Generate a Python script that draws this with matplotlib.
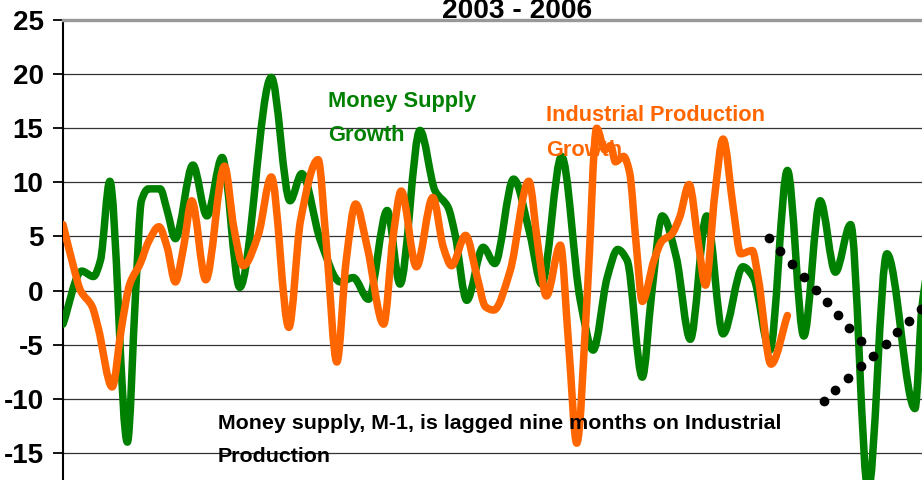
import matplotlib
matplotlib.use("Agg")
import matplotlib.pyplot as plt
import numpy as np
from matplotlib.path import Path
from matplotlib.patches import PathPatch
from matplotlib import font_manager

# Money supply growth (M-1, lagged nine months), x in months from start
green_x = [0, 1.6, 2.6, 3.2, 4.0, 5.5, 6.2, 6.7, 7.3, 8.3, 8.9, 9.6, 11.1, 12.3, 13.6,
           15.1, 17.8, 19.4, 20.4, 22.0, 23.7, 24.8, 26.1, 27.7, 28.8, 30.5, 31.8, 32.9,
           33.5, 34.5, 35.9, 36.9, 38.5, 39.9, 40.9, 42.6, 44.2, 45.3, 46.5, 47.4, 48.2,
           49.5, 50.3, 51.2, 52.4, 53.6, 55.0, 56.4, 58.1, 59.0, 60.4, 61.9, 63.3, 64.7,
           66.0, 67.3, 68.8, 70.4, 72.8, 73.4, 74.2]
green_y = [-3.1, 1.8, 1.3, 2.8, 10.1, -14.0, -0.3, 8.3, 9.4, 9.4, 7.4, 4.8, 11.6, 6.9, 12.3,
           0.3, 19.7, 8.3, 10.8, 4.6, 0.8, 1.2, -0.8, 7.4, 0.6, 14.8, 9.2, 7.7,
           5.2, -0.9, 4.0, 2.5, 10.3, 5.2, 0.6, 12.4, -0.9, -5.5, 1.2, 3.8, 2.8,
           -8.0, -0.3, 6.9, 3.1, -4.5, 6.9, -4.0, 2.2, 1.2, -5.5, 11.1, -4.2, 8.3,
           1.7, 6.1, -18.5, 3.4, -10.9, -1.5, 4.0]

# Industrial production growth
orange_x = [0, 0.9, 1.5, 2.5, 3.0, 4.2, 5.0, 5.7, 6.6, 7.3, 8.2, 8.9, 9.6, 10.3, 11.0,
            12.2, 13.8, 14.6, 15.4, 16.7, 17.8, 19.3, 20.3, 21.8, 22.5, 23.4, 24.2, 25.0,
            26.0, 27.4, 28.2, 28.9, 30.2, 31.6, 32.5, 33.2, 34.4, 35.4, 36.1, 36.8, 38.2,
            39.8, 40.6, 41.3, 42.5, 43.2, 43.9, 44.8, 45.6, 46.3, 46.8, 47.2, 47.9, 48.4,
            49.0, 49.5, 50.5, 51.2, 52.0, 52.7, 53.5, 54.3, 54.9, 55.7, 56.4, 57.3, 57.9,
            58.9, 59.4, 60.5, 61.9]
orange_y = [6.1, 2.2, 0.0, -1.5, -3.4, -8.9, -3.4, 0.6, 2.5, 4.5, 5.9, 4.0, 0.8, 4.0, 8.3,
            1.0, 11.5, 5.8, 2.3, 5.2, 10.5, -3.4, 6.5, 12.1, 4.3, -6.6, 2.8, 8.0,
            4.0, -3.1, 4.9, 9.2, 2.2, 8.6, 4.0, 2.3, 5.1, 1.2, -1.5, -1.8, 1.8,
            10.1, 4.0, -0.5, 4.2, -4.9, -14.1, -0.3, 15.0, 13.0, 13.4, 11.9, 12.4, 11.0,
            4.0, -1.0, 2.8, 4.6, 5.2, 6.8, 9.8, 4.3, 0.5, 8.9, 14.0, 7.4, 3.4,
            3.7, 1.2, -6.8, -2.3]

# dotted trend segments
dots_a_x = [60.3, 61.3, 62.3, 63.3, 64.3, 65.3, 66.2, 67.2, 68.2]
dots_a_y = [4.9, 3.7, 2.5, 1.3, 0.1, -1.1, -2.3, -3.5, -4.7]
dots_b_x = [65.0, 66.0, 67.1, 68.2, 69.2, 70.3, 71.3, 72.3, 73.3]
dots_b_y = [-10.2, -9.2, -8.1, -7.0, -6.0, -4.9, -3.8, -2.8, -1.7]

yticks = [-15, -10, -5, 0, 5, 10, 15, 20, 25]

names = {f.name for f in font_manager.fontManager.ttflist}
narrow = 'Liberation Sans Narrow' in names
fam = ['Liberation Sans Narrow', 'Liberation Sans'] if narrow else ['Liberation Sans']
plt.rcParams['font.family'] = fam
plt.rcParams['font.weight'] = 'bold'


def smooth_path(x, y):
    # monotone cubic (pchip-like) drawn as bezier segments
    x = np.asarray(x, float)
    y = np.asarray(y, float)
    h = np.diff(x)
    d = np.diff(y) / h
    m = np.zeros_like(y)
    m[0], m[-1] = d[0], d[-1]
    for i in range(1, len(y) - 1):
        if d[i - 1] * d[i] > 0:
            w1 = 2 * h[i] + h[i - 1]
            w2 = h[i] + 2 * h[i - 1]
            m[i] = (w1 + w2) / (w1 / d[i - 1] + w2 / d[i])
    verts = [(x[0], y[0])]
    codes = [Path.MOVETO]
    for i in range(len(x) - 1):
        verts += [(x[i] + h[i] / 3, y[i] + m[i] * h[i] / 3),
                  (x[i + 1] - h[i] / 3, y[i + 1] - m[i + 1] * h[i] / 3),
                  (x[i + 1], y[i + 1])]
        codes += [Path.CURVE4] * 3
    return Path(verts, codes)


fig = plt.figure(figsize=(9.22, 4.8), dpi=100)
ax = fig.add_axes([63 / 922, 0, 859 / 922, 460 / 480])
ax.set_xlim(0, 73.4)
ax.set_ylim(-17.5, 25)

for v in yticks[:-1]:
    ax.axhline(v, color='#333333', lw=0.9, zorder=1)

ax.add_patch(PathPatch(smooth_path(green_x, green_y), fill=False, edgecolor='#008000',
                       lw=5.4, capstyle='round', joinstyle='round', zorder=3))
ax.add_patch(PathPatch(smooth_path(orange_x, orange_y), fill=False, edgecolor='#FF6600',
                       lw=5.4, capstyle='round', joinstyle='round', zorder=4))
ax.plot(dots_a_x, dots_a_y, 'o', color='black', ms=6, zorder=5)
ax.plot(dots_b_x, dots_b_y, 'o', color='black', ms=6, zorder=5)

ax.set_xticks([])
ax.set_yticks(yticks)
ax.set_yticklabels([str(v) for v in yticks])
ax.tick_params(axis='y', length=7, width=1.3, pad=7, labelsize=22 if narrow else 20,
               color='black')
for s in ['right', 'bottom']:
    ax.spines[s].set_visible(False)
ax.spines['left'].set_linewidth(1.5)
ax.spines['top'].set_color('#999999')
ax.spines['top'].set_linewidth(2.4)

t_ms1 = ax.text(22.65, 17.0, 'Money Supply', color='#008000', fontsize=16, zorder=6)
t_ms2 = ax.text(22.65, 13.8, 'Growth', color='#008000', fontsize=16, zorder=6)
t_ip1 = ax.text(41.3, 15.65, 'Industrial Production', color='#FF6600', fontsize=16, zorder=6)
t_ip2 = ax.text(41.3, 12.45, 'Growth', color='#FF6600', fontsize=16, zorder=6)
t_n1 = ax.text(13.25, -12.75, 'Money supply, M-1, is lagged nine months on Industrial',
               color='black', fontsize=16, zorder=6)
t_n2 = ax.text(13.25, -15.8, 'Production', color='black', fontsize=16, zorder=6)
t_title = fig.text(517 / 922, 1 - 18.5 / 480, '2003 - 2006', ha='center', va='baseline',
                   fontsize=16)

# scale font sizes so the condensed text spans about the same width as in the chart
renderer = fig.canvas.get_renderer()


def fit(texts, target_px):
    w = texts[0].get_window_extent(renderer).width
    fs = texts[0].get_fontsize() * target_px / w
    for t in texts:
        t.set_fontsize(fs)


fit([t_ms1, t_ms2], 148)
fit([t_ip1, t_ip2], 218)
fit([t_n1, t_n2], 560)
fit([t_title], 150)

fig.savefig('out.png', dpi=100)
